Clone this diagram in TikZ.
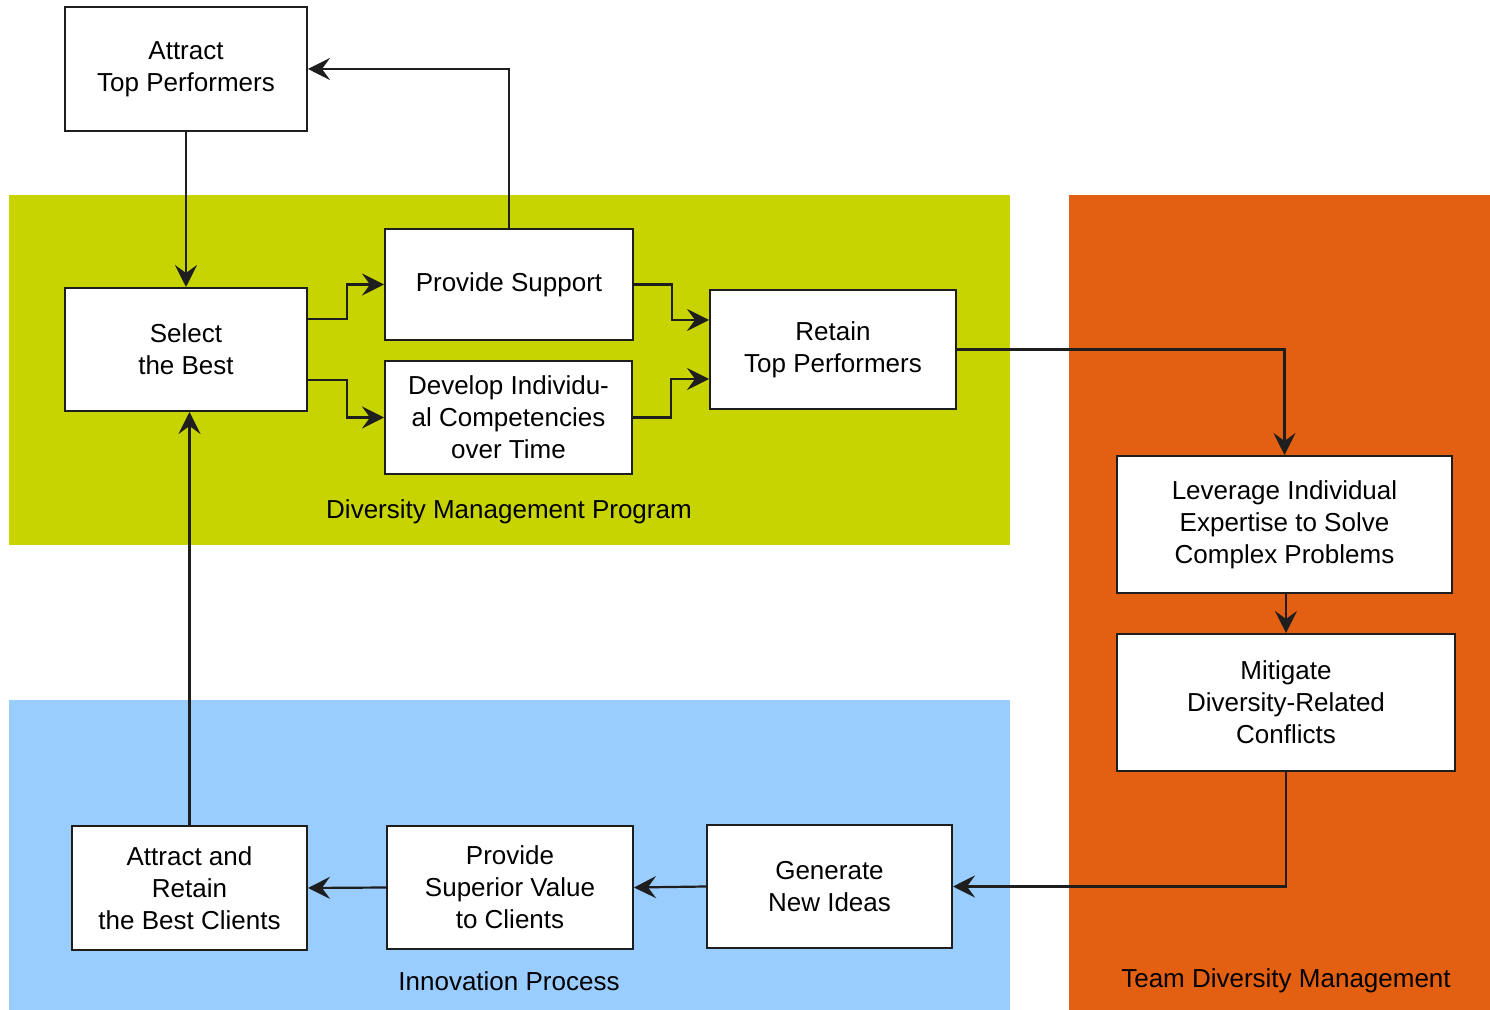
\documentclass[tikz,border=0pt]{standalone}
\usepackage{fontspec}
\setmainfont{Liberation Sans}
\usetikzlibrary{arrows.meta}

\definecolor{progGreen}{HTML}{C8D400}
\definecolor{innoBlue}{HTML}{99CCFF}
\definecolor{teamOrange}{HTML}{E36012}
\definecolor{lineDark}{HTML}{1E1E1E}

\tikzset{
  box/.style={rectangle,draw=lineDark,line width=1pt,fill=white,align=center,
    inner sep=0pt,font=\fontsize{13}{16}\selectfont},
  flow/.style={draw=lineDark,line width=1.1pt,
    -{Stealth[length=11pt,width=11pt,inset=4pt]}},
  area/.style={font=\fontsize{13}{16}\selectfont}
}

\begin{document}
\begin{tikzpicture}[x=0.5pt,y=-0.5pt]
\useasboundingbox (0,0) rectangle (1490,1010);
% coloured regions
\fill[progGreen] (9,195) rectangle (1010,545);
\fill[innoBlue] (9,700) rectangle (1010,1010);
\fill[teamOrange] (1069,195) rectangle (1490,1010);
\node[area] (lblprog) at (509,512) {Diversity Management Program};
\node[area] (lblinno) at (509,981) {Innovation Process};
\node[area] (lblteam) at (1286,981) {Team Diversity Management};

% boxes
\node[box,minimum width=121pt,minimum height=62pt] (attract) at (186,69) {Attract\\Top Performers};
\node[box,minimum width=121pt,minimum height=61.5pt] (select) at (186,349.5) {Select\\the Best};
\node[box,minimum width=124pt,minimum height=55.5pt] (support) at (509,284.5) {Provide Support};
\node[box,minimum width=123.5pt,minimum height=56.5pt] (develop) at (508.5,417.5) {Develop Individu-\\al Competencies\\over Time};
\node[box,minimum width=123pt,minimum height=59.5pt] (retain) at (833,349.5) {Retain\\Top Performers};
\node[box,minimum width=167.5pt,minimum height=68.5pt] (leverage) at (1284.5,524.5) {Leverage Individual\\Expertise to Solve\\Complex Problems};
\node[box,minimum width=169pt,minimum height=68.5pt] (mitigate) at (1286,702.5) {Mitigate\\Diversity-Related\\Conflicts};
\node[box,minimum width=122.5pt,minimum height=61.5pt] (ideas) at (829.5,886.5) {Generate\\New Ideas};
\node[box,minimum width=123pt,minimum height=61.5pt] (value) at (510,887.5) {Provide\\Superior Value\\to Clients};
\node[box,minimum width=117.5pt,minimum height=62pt] (clients) at (189.5,888) {Attract and\\Retain\\the Best Clients};

% connectors
\draw[flow] (attract) -- (select);
\draw[flow] (support.north) |- (attract.east);
\draw[flow] ([yshift=15.25pt]select.east) -- ++(39,0) |- (support.west);
\draw[flow] ([yshift=-15.25pt]select.east) -- ++(39,0) |- (develop.west);
\draw[flow] (support.east) -- ++(38,0) |- ([yshift=14.75pt]retain.west);
\draw[flow] (develop.east) -- ++(38,0) |- ([yshift=-14.75pt]retain.west);
\draw[flow] (retain.east) -| (leverage.north);
\draw[flow] ([xshift=0.75pt]leverage.south) -- (mitigate.north);
\draw[flow] (mitigate.south) |- (ideas.east);
\draw[flow] (ideas.west) -- (value.east);
\draw[flow] (value.west) -- (clients.east);
\draw[flow] (clients.north) -- (clients.north |- select.south);
\end{tikzpicture}
\end{document}
